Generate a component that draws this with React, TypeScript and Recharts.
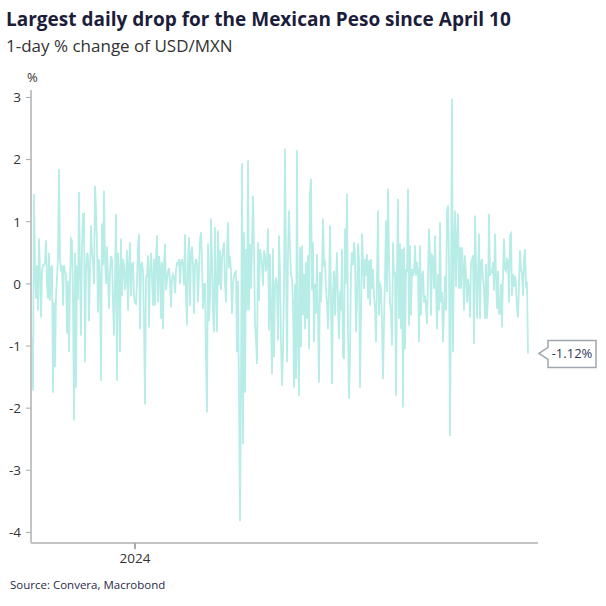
import React from "react";
import { LineChart, Line, XAxis, YAxis, ReferenceDot } from "recharts";

// 1-day % change of USD/MXN, one value per trading day
const pct2023 = [
  -0.86, -1.72, 1.45, 0.3, -0.24, 0.3, -0.43, 0.73, 0.2, -0.54, 0.2, 0.3, 0.3, 0.35, 0.7, 0.0, -0.24, 0.5, -0.27, 0.25,
  0.3, -1.75, -0.3, -1.34, -0.2, 0.1, 0.4, 1.85, 0.4, 0.2, 0.3, -0.35, 0.3, 0.2, 0.15, -0.8, 0.05, -1.1, 0.0, 0.73,
  0.7, -0.3, -2.2, 0.5, -1.67, 0.3, -0.25, 1.48, 0.2, -0.83, 0.6, 1.13,
  1.13, -1.26, 0.2, 0.5, 0.45, -0.6, 0.2, 0.94, 0.5, 0.35, 0.0, 1.58, 1.2, 0.6, -0.46, 0.4, 0.1, -1.56, 0.97, 0.3,
  1.5, 0.4, 0.0, 0.6, 0.1, -0.4, 0.2, 0.45, 0.4, -0.3, -0.83, 0.1, 1.13, -1.56, 0.5, 0.2, -1.1, 0.73, -0.2, 0.4,
  0.3, -0.1, 0.1, 0.54, -0.43, 0.3, 0.67, -0.2, 0.3, 0.35, -0.2,
];

const pct2024 = [
  -0.3,
  -0.32, 0.02, 0.6, 0.8, -0.73, 0.3, 0.35, 0.2, -0.65, -1.94, 0.1, 0.15, 0.46, -0.7, 0.2, 0.5, 0.1, -0.35, 0.4, -0.35,
  0.4, 0.78, -0.3, 0.45, 0.3, -0.56, 0.35, -0.73, 0.3, 0.65, -0.1, 0.05, 0.2, 0.25, 0.05, -0.38, 0.1, 0.15, 0.1, -0.15,
  0.2, 0.35, 0.3, 0.4, 0.0, 0.35, 0.4, 0.3, -0.02, 0.8, -0.2, -0.67,
  0.4, 0.75, -0.35, 0.5, 0.6, 0.3, -0.48, 0.3, 0.4, 0.35, -0.3, 0.2, 0.7, 0.83, 0.4, -0.4, 0.0, 0.0, -1.21, -2.07,
  0.65, -0.6, -0.25, 1.05, 0.4, -0.5, -0.78, 0.91, -0.2, -0.78, 0.86, -0.02, 0.54, -0.1, 0.4, 0.54, 0.67, 0.0, -0.3, 0.5,
  0.99, 0.25, 0.45, 0.2, -0.48, 0.0, 0.13, 0.18, 0.2, -1.1, 0.05, -1.75,
  -3.82, -1.59, 1.94, -2.58, 0.83, -1.75, 0.56, -0.43, 1.99, -0.43, 0.64, -0.08, 0.64, 1.42, 0.56, -0.62, -0.9, -1.29, 0.67, -0.27,
  0.56, 0.46, 0.3, -0.03, 0.54, 0.46, 0.2, 0.35, 0.89, -0.75, 0.48, -0.56, -1.45, 0.57, -1.18, -0.08, 0.1, -0.05, -0.91, 0.78,
  0.2, -0.94, -1.64, -1.13, -0.03, 2.18, 0.3, -1.26, 0.51, 1.18, 0.6, 0.13,
  0.1, -0.3, -1.67, 0.0, -1.53, 2.15, -1.0, -1.8, 0.59, -1.02, 0.62, -0.5, 0.16, -0.73, 0.35, -0.56, 0.46, -1.05, 1.45, 1.69,
  -0.11, 0.67, -0.94, 0.0, -0.48, 0.48, -0.51, -1.59, 0.19, -0.3, 0.13, 1.05, 0.32, 0.35, -0.08, -0.3, -0.73, -0.13, 0.94, -0.3,
  -1.61, -0.13, 0.21, -0.51, 0.08, 0.51, -0.35, -0.89, -0.11, -0.43, 0.56, -1.16,
  -1.21, 0.89, 0.0, 1.45, -0.73, -1.85, -1.16, 0.24, 0.51, 0.3, 0.67, 0.46, -0.78, -0.3, 0.65, 0.4, -1.67, -0.51, 0.81, 0.35,
  -0.08, 0.4, 0.13, 0.48, -0.24, 0.38, -0.35, 0.4, -0.08, 0.24, -0.19, -0.4, -0.94, 0.13, 1.18, -0.51, 0.02, -0.08, -0.62, -1.53,
  -0.62, 0.13, 1.02,
];

const pct2025 = [
  -0.13, 1.53, 0.46, -0.3, -0.46, -0.99, 0.67, 0.13, 0.2,
  -1.8, 0.24, 1.37, -0.56, 0.65, -0.73, 0.56, -1.99, 0.59, -1.05, 0.24, 0.19, 1.53, -0.67, 0.62, -0.51, 0.24, 0.13, 0.19, 0.62,
  0.13, 0.35, 0.19, -0.94, 0.62, -0.51, 0.13, 0.21, -0.3, -0.19, -0.35, -0.65, 0.08, 0.89, 0.46, -0.51, 0.46, 0.43, -0.08, 0.78,
  -0.08, -0.73, 0.16, -0.43, 0.99, -0.3, -0.13, -0.94, -0.4, 0.13, -0.43, 1.16,
  1.26, 0.35, -2.45, -0.13, 2.98, -1.1, 0.62, 1.18, -0.05, 0.73, 1.13, -0.08, 0.59, -0.08, 0.59, 0.3, -0.43, 0.46, 0.16, -0.3,
  0.08, -0.08, -0.54, 0.35, 0.38, 0.46, -0.97, 1.1, 0.35, -0.56, 0.13, 0.81, -0.56, 0.35, 0.4, 0.08, -0.08, -0.56, 0.32, -0.56,
  -0.19, 1.13, 0.13, 0.21, 0.19, 0.35, -0.11, 0.81, 0.13, -0.4, 0.21, -0.48,
  -0.48, 0.0, -0.7, 0.13, 0.73, 0.24, 0.21, 0.4, 0.38, -0.3, 0.78, 0.81, -0.19, 0.16, -0.05, 0.13, -0.03, -0.4, -0.54, -0.03,
  0.54, 0.24, 0.16, -0.19, 0.38, 0.56, -0.03, 0.0, -1.12,
];

const yTicks = [-4, -3, -2, -1, 0, 1, 2, 3];
const yearLabels = ["2024"];
const lastLabel = "-1.12%";

const values = [...pct2023, ...pct2024, ...pct2025];
const data = values.map((v, i) => ({ i, v }));
const lastIdx = data.length - 1;
// first trading day of 2024 sits right after the 2023 block
const xTicks = [pct2023.length];

const font = "'Open Sans', 'Noto Sans', sans-serif";
const ink = "#1c1d3b";
const axisGrey = "#c4c4c4";

function Callout(props: any) {
  const { cx, cy } = props;
  if (cx == null || cy == null) return null;
  const tip = cx + 11;
  const left = cx + 20;
  const right = cx + 68;
  const d = `M${tip},${cy} L${left},${cy - 6} L${left},${cy - 13} L${right},${cy - 13} L${right},${cy + 14} L${left},${cy + 14} L${left},${cy + 6} Z`;
  return (
    <g>
      <path d={d} fill="#fff" stroke="#a0a6ae" strokeWidth={1.5} />
      <text x={(left + right) / 2} y={cy + 5} textAnchor="middle" fontSize={13} fill="#2e3a5a" fontFamily={font}>
        {lastLabel}
      </text>
    </g>
  );
}

export default function App() {
  return (
    <div style={{ position: "absolute", left: 0, top: 0, width: 606, height: 606, background: "#fff", fontFamily: font }}>
      <div style={{ position: "absolute", left: 6, top: 6, fontSize: 19, fontWeight: 700, color: ink, whiteSpace: "nowrap" }}>
        Largest daily drop for the Mexican Peso since April 10
      </div>
      <div style={{ position: "absolute", left: 6, top: 34, fontSize: 17, color: "#333", whiteSpace: "nowrap" }}>
        1-day % change of USD/MXN
      </div>
      <div style={{ position: "absolute", left: 27, top: 68, fontSize: 13, color: "#333" }}>%</div>
      <div style={{ position: "absolute", left: 0, top: 0 }}>
        <LineChart width={606} height={606} data={data} margin={{ top: 90, right: 68, bottom: 0, left: 0 }}>
          <XAxis
            type="number"
            dataKey="i"
            domain={[-1, 506]}
            ticks={xTicks}
            tickFormatter={(t: number) => yearLabels[xTicks.indexOf(t)] ?? ""}
            height={63}
            tickSize={6}
            tickMargin={4}
            axisLine={{ stroke: axisGrey, strokeWidth: 2 }}
            tickLine={{ stroke: "#aaa", strokeWidth: 2 }}
            tick={{ fontSize: 13.5, fill: "#333" }}
          />
          <YAxis
            type="number"
            domain={[-4.17, 3.12]}
            ticks={yTicks}
            width={31}
            tickSize={5}
            tickMargin={5}
            axisLine={{ stroke: axisGrey, strokeWidth: 2 }}
            tickLine={{ stroke: "#aaa", strokeWidth: 1 }}
            tick={{ fontSize: 13.5, fill: "#333" }}
          />
          <Line
            type="linear"
            dataKey="v"
            stroke="#b8ede7"
            strokeWidth={1.8}
            dot={false}
            isAnimationActive={false}
          />
          <ReferenceDot x={lastIdx} y={values[lastIdx]} r={0} ifOverflow="visible" shape={(p: any) => <Callout {...p} />} />
        </LineChart>
      </div>
      <div style={{ position: "absolute", left: 10, top: 577, fontSize: 11.5, color: "#1f2a48", whiteSpace: "nowrap" }}>
        Source: Convera, Macrobond
      </div>
    </div>
  );
}
